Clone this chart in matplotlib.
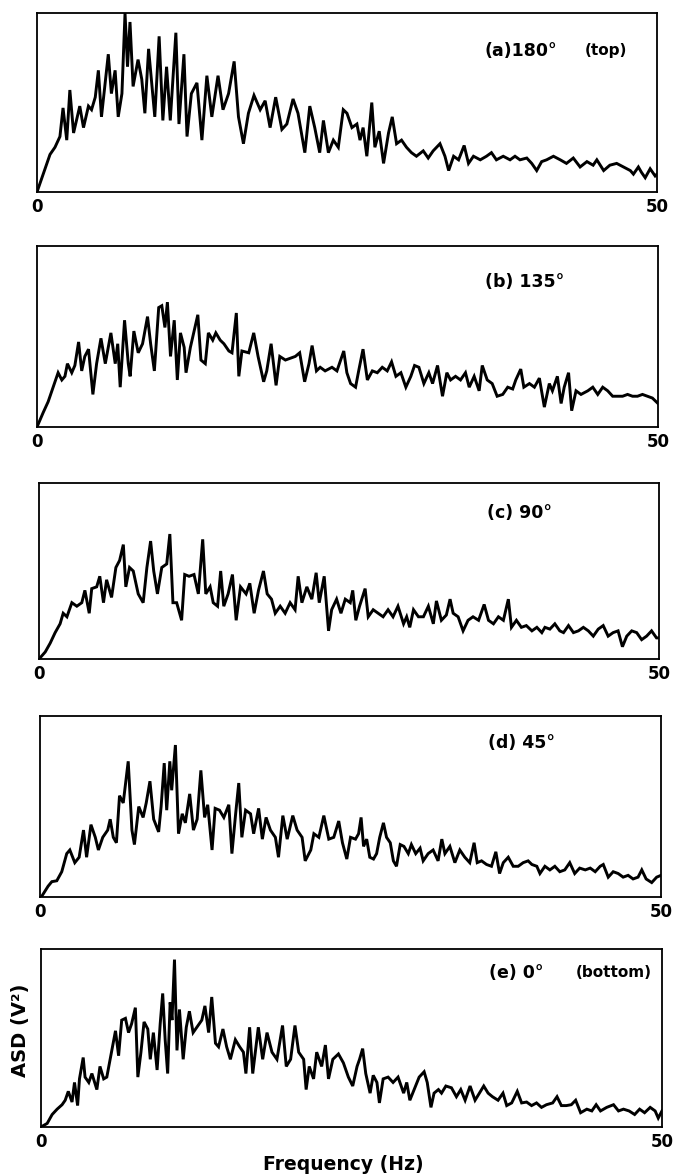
import matplotlib
matplotlib.use('Agg')
import matplotlib.pyplot as plt

# values (ASD in relative units, 1 = top of frame)
freq_a = [0.0, 0.5, 1.05, 1.45, 1.85, 2.1, 2.4, 2.65, 2.95, 3.45,
          3.75, 4.15, 4.4, 4.7, 4.95, 5.2, 5.75, 6.0, 6.3, 6.55,
          6.85, 7.1, 7.3, 7.5, 7.75, 8.15, 8.45, 8.7, 9.0, 9.25,
          9.5, 9.85, 10.15, 10.45, 10.75, 11.2, 11.45, 11.85, 12.1, 12.45,
          12.9, 13.3, 13.7, 14.1, 14.6, 15.0, 15.45, 15.9, 16.25, 16.65,
          17.05, 17.5, 18.0, 18.4, 18.8, 19.25, 19.75, 20.15, 20.65, 21.05,
          21.6, 22.0, 22.4, 22.8, 23.1, 23.5, 23.9, 24.3, 24.7, 25.0,
          25.4, 25.8, 26.05, 26.3, 26.6, 27.0, 27.25, 27.6, 27.95, 28.35,
          28.65, 29.0, 29.4, 29.8, 30.2, 30.6, 31.15, 31.55, 31.95, 32.5,
          32.9, 33.2, 33.6, 34.0, 34.45, 34.8, 35.2, 35.75, 36.25, 36.65,
          37.05, 37.6, 38.15, 38.55, 38.95, 39.5, 39.9, 40.3, 40.7, 41.1,
          41.65, 42.2, 42.7, 43.25, 43.8, 44.35, 44.85, 45.15, 45.7, 46.2,
          46.75, 47.3, 47.85, 48.1, 48.5, 48.75, 49.05, 49.45, 49.85, 50.0]
asd_a = [0.0, 0.10, 0.21, 0.25, 0.31, 0.47, 0.29, 0.57, 0.33, 0.48,
         0.36, 0.48, 0.46, 0.53, 0.68, 0.42, 0.77, 0.55, 0.68, 0.42,
         0.55, 1.0, 0.70, 0.95, 0.59, 0.74, 0.63, 0.44, 0.80, 0.61,
         0.42, 0.87, 0.40, 0.70, 0.40, 0.89, 0.38, 0.77, 0.31, 0.55,
         0.61, 0.29, 0.65, 0.42, 0.65, 0.46, 0.55, 0.73, 0.42, 0.27,
         0.44, 0.54, 0.46, 0.51, 0.36, 0.53, 0.35, 0.38, 0.52, 0.44,
         0.22, 0.48, 0.36, 0.22, 0.40, 0.22, 0.29, 0.25, 0.46, 0.44,
         0.36, 0.38, 0.29, 0.36, 0.20, 0.50, 0.25, 0.34, 0.16, 0.33,
         0.42, 0.27, 0.29, 0.25, 0.22, 0.20, 0.23, 0.19, 0.23, 0.27,
         0.20, 0.12, 0.20, 0.18, 0.26, 0.16, 0.20, 0.18, 0.20, 0.22,
         0.18, 0.20, 0.18, 0.20, 0.18, 0.19, 0.16, 0.12, 0.17, 0.18,
         0.20, 0.18, 0.16, 0.19, 0.14, 0.17, 0.15, 0.18, 0.12, 0.15,
         0.16, 0.14, 0.12, 0.10, 0.14, 0.11, 0.08, 0.13, 0.09, 0.10]

freq_b = [0.0, 0.5, 0.9, 1.3, 1.7, 2.0, 2.25, 2.45, 2.8, 3.05,
          3.35, 3.6, 3.85, 4.15, 4.5, 4.8, 5.15, 5.5, 5.95, 6.3,
          6.5, 6.7, 7.05, 7.35, 7.5, 7.8, 8.15, 8.5, 8.9, 9.15,
          9.45, 9.8, 10.05, 10.3, 10.5, 10.75, 11.05, 11.3, 11.55, 11.85,
          12.0, 12.35, 12.65, 12.95, 13.2, 13.55, 13.8, 14.15, 14.4, 14.75,
          15.05, 15.45, 15.7, 16.05, 16.25, 16.5, 17.05, 17.45, 17.8, 18.25,
          18.5, 18.85, 19.25, 19.55, 20.0, 20.4, 20.8, 21.15, 21.55, 21.9,
          22.15, 22.5, 22.8, 23.2, 23.75, 24.15, 24.7, 24.95, 25.25, 25.65,
          25.9, 26.25, 26.6, 27.0, 27.4, 27.8, 28.2, 28.55, 28.9, 29.3,
          29.7, 30.1, 30.4, 30.75, 31.15, 31.55, 31.85, 32.25, 32.65, 33.0,
          33.3, 33.7, 34.1, 34.5, 34.8, 35.2, 35.6, 35.85, 36.25, 36.65,
          37.05, 37.5, 37.9, 38.3, 38.55, 38.95, 39.2, 39.65, 40.05, 40.45,
          40.85, 41.25, 41.5, 41.9, 42.2, 42.45, 42.8, 43.05, 43.4, 43.8,
          44.35, 44.75, 45.15, 45.55, 45.95, 46.35, 46.75, 47.15, 47.55, 47.95,
          48.35, 48.75, 49.15, 49.55, 50.0]
asd_b = [0.0, 0.08, 0.14, 0.22, 0.30, 0.26, 0.28, 0.35, 0.30, 0.34,
         0.47, 0.31, 0.39, 0.43, 0.18, 0.35, 0.49, 0.35, 0.52, 0.35,
         0.46, 0.22, 0.59, 0.35, 0.28, 0.53, 0.41, 0.46, 0.61, 0.46,
         0.31, 0.66, 0.67, 0.55, 0.69, 0.39, 0.59, 0.26, 0.52, 0.44,
         0.30, 0.44, 0.53, 0.62, 0.37, 0.35, 0.52, 0.48, 0.52, 0.48,
         0.46, 0.42, 0.41, 0.63, 0.28, 0.42, 0.41, 0.52, 0.39, 0.25,
         0.31, 0.46, 0.23, 0.39, 0.37, 0.38, 0.39, 0.41, 0.25, 0.35,
         0.45, 0.31, 0.33, 0.31, 0.33, 0.31, 0.42, 0.30, 0.24, 0.22,
         0.31, 0.43, 0.26, 0.31, 0.30, 0.33, 0.31, 0.36, 0.28, 0.30,
         0.22, 0.28, 0.34, 0.33, 0.24, 0.30, 0.24, 0.34, 0.17, 0.30,
         0.26, 0.28, 0.26, 0.30, 0.22, 0.28, 0.20, 0.34, 0.26, 0.24,
         0.17, 0.18, 0.22, 0.21, 0.26, 0.32, 0.22, 0.24, 0.22, 0.27,
         0.11, 0.24, 0.20, 0.28, 0.13, 0.22, 0.30, 0.09, 0.20, 0.18,
         0.20, 0.22, 0.18, 0.22, 0.20, 0.17, 0.17, 0.17, 0.18, 0.17,
         0.17, 0.18, 0.17, 0.16, 0.13]

freq_c = [0.0, 0.5, 0.9, 1.3, 1.7, 1.95, 2.25, 2.65, 3.05, 3.45,
          3.7, 4.05, 4.25, 4.65, 4.9, 5.2, 5.45, 5.85, 6.2, 6.5,
          6.8, 7.0, 7.3, 7.6, 8.0, 8.4, 8.7, 9.0, 9.25, 9.55,
          9.9, 10.3, 10.55, 10.8, 11.1, 11.5, 11.75, 12.1, 12.5, 12.85,
          13.2, 13.45, 13.8, 14.05, 14.4, 14.65, 14.9, 15.25, 15.6, 15.9,
          16.25, 16.7, 17.0, 17.35, 17.7, 18.1, 18.4, 18.75, 19.05, 19.45,
          19.85, 20.25, 20.65, 20.9, 21.2, 21.6, 22.0, 22.35, 22.6, 23.0,
          23.35, 23.6, 24.0, 24.35, 24.7, 25.1, 25.3, 25.55, 25.85, 26.3,
          26.55, 26.95, 27.35, 27.75, 28.15, 28.55, 28.95, 29.4, 29.65, 29.9,
          30.2, 30.6, 31.0, 31.4, 31.8, 32.05, 32.45, 32.85, 33.15, 33.4,
          33.8, 34.2, 34.6, 35.0, 35.45, 35.9, 36.25, 36.65, 37.05, 37.45,
          37.85, 38.1, 38.5, 38.9, 39.3, 39.75, 40.15, 40.55, 40.8, 41.2,
          41.6, 42.0, 42.3, 42.7, 43.1, 43.5, 43.9, 44.3, 44.7, 45.1,
          45.5, 45.9, 46.3, 46.7, 47.05, 47.4, 47.8, 48.2, 48.6, 49.0,
          49.4, 49.8, 50.0]
asd_c = [0.0, 0.04, 0.09, 0.15, 0.20, 0.26, 0.24, 0.32, 0.30, 0.32,
         0.39, 0.26, 0.40, 0.41, 0.47, 0.32, 0.45, 0.35, 0.52, 0.56,
         0.65, 0.41, 0.52, 0.50, 0.37, 0.32, 0.52, 0.67, 0.50, 0.37,
         0.52, 0.54, 0.71, 0.32, 0.32, 0.22, 0.48, 0.47, 0.48, 0.37,
         0.68, 0.37, 0.41, 0.32, 0.30, 0.50, 0.30, 0.37, 0.48, 0.22,
         0.41, 0.37, 0.43, 0.26, 0.39, 0.50, 0.37, 0.34, 0.26, 0.30,
         0.26, 0.32, 0.28, 0.47, 0.32, 0.41, 0.34, 0.49, 0.32, 0.47,
         0.16, 0.28, 0.34, 0.26, 0.34, 0.32, 0.39, 0.22, 0.30, 0.40,
         0.24, 0.28, 0.26, 0.24, 0.28, 0.24, 0.30, 0.20, 0.24, 0.18,
         0.28, 0.24, 0.24, 0.30, 0.20, 0.33, 0.22, 0.25, 0.34, 0.26,
         0.24, 0.16, 0.22, 0.24, 0.22, 0.31, 0.22, 0.20, 0.24, 0.22,
         0.34, 0.18, 0.22, 0.18, 0.19, 0.16, 0.18, 0.15, 0.18, 0.17,
         0.20, 0.16, 0.15, 0.19, 0.15, 0.16, 0.18, 0.16, 0.13, 0.17,
         0.19, 0.13, 0.15, 0.16, 0.07, 0.13, 0.16, 0.15, 0.11, 0.13,
         0.16, 0.12, 0.12]

freq_d = [0.1, 0.65, 0.95, 1.35, 1.75, 2.15, 2.4, 2.8, 3.15, 3.5,
          3.75, 4.1, 4.45, 4.7, 5.05, 5.45, 5.65, 5.9, 6.15, 6.4,
          6.7, 7.1, 7.4, 7.6, 7.95, 8.3, 8.55, 8.85, 9.15, 9.55,
          9.75, 10.0, 10.2, 10.45, 10.6, 10.9, 11.15, 11.45, 11.7, 12.05,
          12.35, 12.65, 12.95, 13.25, 13.5, 13.85, 14.1, 14.45, 14.8, 15.2,
          15.45, 15.75, 16.0, 16.25, 16.55, 16.95, 17.2, 17.6, 17.9, 18.2,
          18.55, 18.95, 19.2, 19.55, 19.9, 20.35, 20.7, 21.1, 21.35, 21.8,
          22.05, 22.45, 22.85, 23.25, 23.65, 24.05, 24.35, 24.7, 25.0, 25.4,
          25.65, 25.85, 26.05, 26.3, 26.55, 26.85, 27.1, 27.35, 27.65, 27.9,
          28.2, 28.45, 28.7, 29.0, 29.3, 29.65, 29.9, 30.25, 30.6, 30.85,
          31.25, 31.65, 32.05, 32.35, 32.6, 33.0, 33.4, 33.8, 34.2, 34.6,
          34.95, 35.2, 35.55, 35.95, 36.35, 36.7, 37.0, 37.3, 37.7, 38.1,
          38.5, 38.9, 39.3, 39.6, 40.0, 40.25, 40.65, 41.05, 41.45, 41.85,
          42.25, 42.65, 43.05, 43.45, 43.9, 44.3, 44.7, 45.1, 45.35, 45.75,
          46.15, 46.55, 46.95, 47.35, 47.75, 48.15, 48.45, 48.8, 49.25, 49.65,
          50.0]
asd_d = [0.0, 0.06, 0.085, 0.09, 0.14, 0.24, 0.26, 0.19, 0.22, 0.37,
         0.22, 0.40, 0.33, 0.26, 0.33, 0.37, 0.43, 0.33, 0.30, 0.56,
         0.52, 0.75, 0.37, 0.29, 0.50, 0.44, 0.52, 0.64, 0.43, 0.36,
         0.50, 0.74, 0.48, 0.75, 0.59, 0.84, 0.35, 0.46, 0.41, 0.57,
         0.37, 0.43, 0.70, 0.44, 0.51, 0.26, 0.49, 0.48, 0.44, 0.51,
         0.24, 0.46, 0.63, 0.33, 0.48, 0.46, 0.35, 0.49, 0.32, 0.44,
         0.37, 0.33, 0.22, 0.45, 0.32, 0.45, 0.37, 0.33, 0.20, 0.26,
         0.35, 0.33, 0.45, 0.32, 0.33, 0.42, 0.30, 0.21, 0.33, 0.32,
         0.35, 0.44, 0.28, 0.32, 0.22, 0.21, 0.24, 0.33, 0.41, 0.33,
         0.30, 0.20, 0.17, 0.29, 0.28, 0.24, 0.29, 0.24, 0.27, 0.20,
         0.24, 0.26, 0.20, 0.32, 0.24, 0.28, 0.19, 0.26, 0.22, 0.19,
         0.30, 0.19, 0.20, 0.18, 0.17, 0.25, 0.13, 0.19, 0.22, 0.17,
         0.17, 0.19, 0.20, 0.18, 0.17, 0.13, 0.17, 0.15, 0.17, 0.14,
         0.15, 0.19, 0.13, 0.16, 0.15, 0.16, 0.14, 0.17, 0.18, 0.11,
         0.14, 0.13, 0.11, 0.12, 0.10, 0.11, 0.15, 0.10, 0.08, 0.11,
         0.12]

freq_e = [0.0, 0.5, 0.9, 1.3, 1.7, 1.95, 2.2, 2.5, 2.7, 2.95,
          3.1, 3.4, 3.55, 3.85, 4.1, 4.5, 4.75, 5.05, 5.3, 5.65,
          6.0, 6.25, 6.5, 6.8, 7.05, 7.3, 7.6, 7.8, 8.05, 8.3,
          8.6, 8.8, 9.05, 9.35, 9.6, 9.8, 10.0, 10.2, 10.4, 10.55,
          10.75, 10.95, 11.15, 11.45, 11.7, 11.95, 12.25, 12.55, 12.95, 13.2,
          13.5, 13.75, 14.05, 14.3, 14.65, 14.95, 15.25, 15.65, 16.0, 16.3,
          16.5, 16.8, 17.05, 17.5, 17.85, 18.2, 18.6, 19.0, 19.45, 19.75,
          20.1, 20.45, 20.75, 21.15, 21.35, 21.6, 21.95, 22.2, 22.6, 22.9,
          23.15, 23.5, 23.95, 24.35, 24.75, 25.1, 25.45, 25.65, 25.9, 26.15,
          26.5, 26.75, 27.05, 27.25, 27.55, 27.95, 28.35, 28.75, 29.2, 29.45,
          29.7, 30.05, 30.45, 30.85, 31.1, 31.4, 31.65, 32.0, 32.25, 32.6,
          33.05, 33.45, 33.8, 34.15, 34.55, 34.95, 35.3, 35.65, 36.0, 36.35,
          36.8, 37.2, 37.5, 37.9, 38.35, 38.7, 39.1, 39.5, 39.9, 40.3,
          40.7, 41.2, 41.55, 41.9, 42.3, 42.7, 43.05, 43.45, 43.95, 44.35,
          44.7, 45.05, 45.55, 46.1, 46.5, 46.9, 47.35, 47.8, 48.2, 48.6,
          49.05, 49.45, 49.7, 50.0]
asd_e = [0.0, 0.02, 0.07, 0.10, 0.125, 0.15, 0.20, 0.14, 0.25, 0.12,
         0.27, 0.39, 0.28, 0.25, 0.30, 0.21, 0.34, 0.27, 0.28, 0.41,
         0.54, 0.40, 0.60, 0.61, 0.53, 0.58, 0.67, 0.28, 0.42, 0.59,
         0.55, 0.38, 0.53, 0.32, 0.58, 0.75, 0.49, 0.30, 0.70, 0.60,
         0.94, 0.43, 0.66, 0.38, 0.56, 0.65, 0.53, 0.56, 0.60, 0.68,
         0.53, 0.73, 0.47, 0.45, 0.55, 0.45, 0.38, 0.49, 0.45, 0.42,
         0.30, 0.56, 0.30, 0.56, 0.38, 0.53, 0.42, 0.38, 0.57, 0.34,
         0.38, 0.57, 0.42, 0.38, 0.21, 0.34, 0.27, 0.42, 0.34, 0.46,
         0.27, 0.38, 0.41, 0.36, 0.28, 0.23, 0.34, 0.38, 0.44, 0.30,
         0.19, 0.29, 0.25, 0.135, 0.27, 0.28, 0.25, 0.28, 0.19, 0.25,
         0.15, 0.21, 0.28, 0.31, 0.25, 0.11, 0.19, 0.21, 0.19, 0.23,
         0.22, 0.17, 0.21, 0.15, 0.23, 0.15, 0.19, 0.23, 0.19, 0.17,
         0.15, 0.19, 0.12, 0.135, 0.20, 0.135, 0.14, 0.12, 0.135, 0.11,
         0.125, 0.135, 0.17, 0.12, 0.12, 0.125, 0.15, 0.08, 0.10, 0.09,
         0.125, 0.09, 0.11, 0.125, 0.09, 0.10, 0.09, 0.07, 0.10, 0.08,
         0.11, 0.09, 0.05, 0.09]

panel_labels = ['(a)180°', '(b) 135°', '(c) 90°', '(d) 45°', '(e) 0°']
panel_notes = ['(top)', '', '', '', '(bottom)']
xtick_vals = [0, 50]
xtick_text = ['0', '50']

series = [(freq_a, asd_a), (freq_b, asd_b), (freq_c, asd_c),
          (freq_d, asd_d), (freq_e, asd_e)]

# axes rectangles (figure fractions)
rects = [[0.0548, 0.8367, 0.9185, 0.1522],
         [0.0548, 0.6369, 0.9200, 0.1539],
         [0.0578, 0.4396, 0.9185, 0.1497],
         [0.0593, 0.2372, 0.9200, 0.1539],
         [0.0607, 0.0417, 0.9200, 0.1514]]
label_y = [0.79, 0.80, 0.83, 0.85, 0.865]
note_x = [0.952, 0, 0, 0, 0.984]

plt.rcParams['font.family'] = ['DejaVu Sans']
fig = plt.figure(figsize=(6.75, 11.76), dpi=100)

for i, (fx, fy) in enumerate(series):
    ax = fig.add_axes(rects[i])
    ax.plot(fx, fy, color='black', linewidth=2.1, solid_joinstyle='miter')
    ax.set_xlim(0, 50)
    ax.set_ylim(0, 1.0)
    ax.set_yticks([])
    ax.set_xticks(xtick_vals)
    ax.set_xticklabels(xtick_text, fontsize=12, fontweight='bold')
    ax.tick_params(axis='x', length=0, pad=4)
    for sp in ax.spines.values():
        sp.set_linewidth(1.3)
    ax.text(0.722, label_y[i], panel_labels[i], transform=ax.transAxes,
            fontsize=12.5, fontweight='bold', ha='left', va='center')
    if panel_notes[i]:
        ax.text(note_x[i], label_y[i], panel_notes[i], transform=ax.transAxes,
                fontsize=11, fontweight='bold', ha='right', va='center')

fig.text(0.508, 0.0094, 'Frequency (Hz)', fontsize=13.5, fontweight='bold',
         ha='center', va='center')
fig.text(0.03, 0.124, 'ASD (V²)', fontsize=14, fontweight='bold',
         rotation=90, ha='center', va='center')

fig.savefig('out.png', dpi=100)
